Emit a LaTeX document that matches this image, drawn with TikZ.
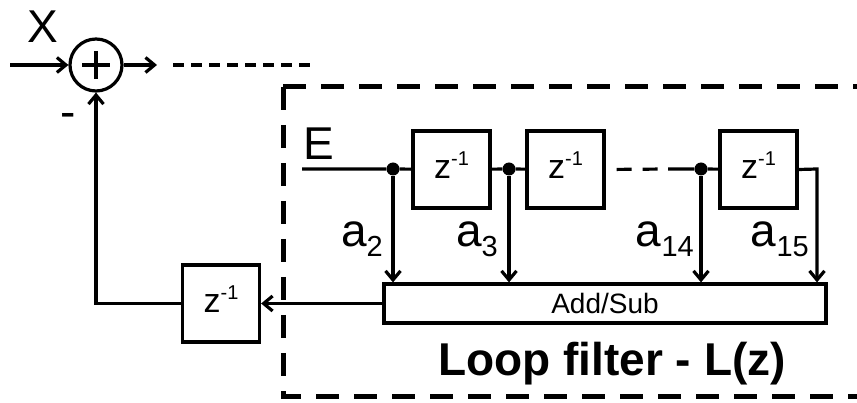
\documentclass[tikz,border=0pt]{standalone}
\usepackage{fontspec}
\setmainfont{Liberation Sans}
\usetikzlibrary{arrows.meta,positioning,calc}
\newcommand{\bigtxt}{\fontsize{46pt}{50pt}\selectfont}
\newcommand{\zinv}{{\fontsize{34pt}{38pt}\selectfont z\raisebox{13pt}{\fontsize{20pt}{22pt}\selectfont -1}}}
\newcommand{\tap}[1]{{\bigtxt a\raisebox{-10pt}{\fontsize{29pt}{32pt}\selectfont #1}}}
\tikzset{
    wire/.style     = {line width=3.2pt},
    sig/.style      = {wire, -{Straight Barb[length=9pt,width=15pt]}},
    delay/.style    = {rectangle, draw, line width=3.2pt, minimum size=77pt, inner sep=0pt,
                       text height=22pt, text depth=4pt},
    tapdot/.style   = {circle, fill, minimum size=13pt, inner sep=0pt},
    labeltxt/.style = {inner sep=0pt, font=\bigtxt}
}
\begin{document}
\begin{tikzpicture}[x=1pt, y=-1pt,
        sumnode/.style   = {circle, draw, line width=3.2pt, minimum size=52pt, inner sep=0pt},
        addbox/.style    = {rectangle, draw, line width=3.2pt, minimum width=442pt, minimum height=39pt,
                            inner sep=0pt, font=\fontsize{28pt}{30pt}\selectfont},
        loopframe/.style = {line width=5pt, dash pattern=on 23pt off 15pt}
    ]
        \useasboundingbox (0,0) rectangle (857,403);

        % Summing junction
        \node[sumnode] (sum) at (96,65) {};
        \draw[wire] ($(sum)+(-14,0)$) -- ($(sum)+(14,0)$) ($(sum)+(0,-14)$) -- ($(sum)+(0,14)$);
        \coordinate (xin) at (10,65);
        \coordinate (xout) at (157,65);
        \coordinate (dashA) at (173,65);
        \coordinate (dashB) at (317,65);
        \node[labeltxt, anchor=base] (xlbl) at (43,43) {X};
        \node[labeltxt, anchor=base] (minus) at (68,128) {-};
        \draw[sig] (xin) -- (sum.west);
        \draw[sig] (sum.east) -- (xout);
        \draw[wire, dash pattern=on 11pt off 7pt] (dashA) -- (dashB);

        % Loop filter frame
        \draw[loopframe] (283,87) -- (857,87);
        \draw[loopframe] (283,87) -- (283,396) -- (857,396);

        % Tap delay line
        \coordinate (ein) at (302,169);
        \node[labeltxt, anchor=base west] (elbl) at (303,160) {E};
        \node[tapdot] (d1) at (393,169) {};
        \node[delay] (z1) at (451.5,169.5) {\zinv};
        \node[tapdot] (d2) at (509,169) {};
        \node[delay] (z2) at (565.5,169.5) {\zinv};
        \coordinate (gapend) at (668,169);
        \node[tapdot] (d3) at (701,169) {};
        \node[delay] (z3) at (758.5,169.5) {\zinv};
        \coordinate (c4) at (817,169);
        \node[addbox] (add) at (605,303.5) {Add/Sub};

        \draw[wire] (ein) -- (d1) -- (z1);
        \draw[wire] (z1) -- (d2) -- (z2);
        \draw[wire, dash pattern=on 15pt off 11pt, dash phase=15pt] (z2.east) -- (gapend);
        \draw[wire] (gapend) -- (d3) -- (z3);
        \draw[sig] (z3.east) -- (c4) -- (c4 |- add.north);
        \foreach \d in {d1,d2,d3}
            \draw[sig] (\d) -- (\d |- add.north);

        % Coefficients
        \node[labeltxt, anchor=base east] (a2) at (383,247) {\tap{2}};
        \node[labeltxt, anchor=base east] (a3) at (498,247) {\tap{3}};
        \node[labeltxt, anchor=base east] (a14) at (694,247) {\tap{14}};
        \node[labeltxt, anchor=base east] (a15) at (809,247) {\tap{15}};

        % Feedback delay
        \node[delay] (zfb) at (221,303.5) {\zinv};
        \draw[sig] (add.west) -- (zfb.east);
        \draw[sig] (zfb.west) -| (sum.south);

        \node[labeltxt, font={\bigtxt\bfseries}, anchor=base] (lbl) at (612,375) {Loop filter - L(z)};

    \end{tikzpicture}
\end{document}
